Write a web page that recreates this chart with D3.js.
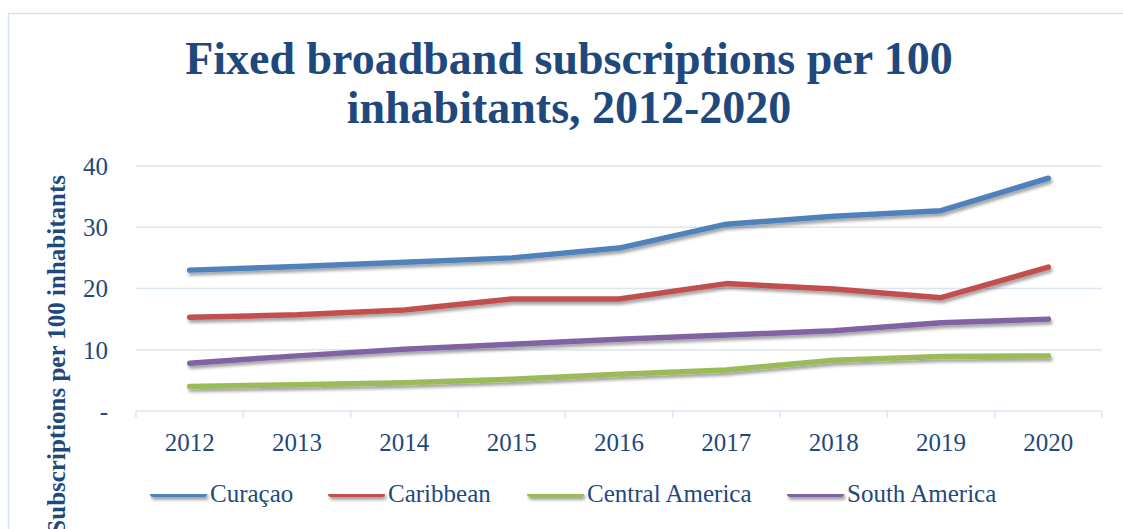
<!DOCTYPE html>
<html><head><meta charset="utf-8">
<script src="https://cdn.jsdelivr.net/npm/d3@7"></script>
<style>body{margin:0;background:#fff;overflow:hidden}svg{display:block}</style>
</head><body>
<script>
const years = ["2012","2013","2014","2015","2016","2017","2018","2019","2020"];
const curacao = [23.0, 23.6, 24.3, 25.0, 26.6, 30.5, 31.8, 32.7, 38.0];
const caribbean = [15.3, 15.7, 16.5, 18.3, 18.3, 20.8, 19.9, 18.5, 23.5];
const centralAmerica = [4.0, 4.3, 4.6, 5.2, 6.0, 6.7, 8.3, 8.9, 9.0];
const southAmerica = [7.8, 9.0, 10.1, 10.9, 11.7, 12.4, 13.1, 14.4, 15.0];
const seriesNames = ["Curaçao","Caribbean","Central America","South America"];
const seriesColors = ["#4F81BD","#C0504D","#9BBB59","#8064A2"];
const yTicks = [0,10,20,30,40];
const titleLines = ["Fixed broadband subscriptions per 100","inhabitants, 2012-2020"];
const yTitle = "Subscriptions per 100 inhabitants";

const series = [curacao, caribbean, centralAmerica, southAmerica];
const W = 1123, H = 529;
const FONT = "'Liberation Serif', 'DejaVu Serif', serif";
const textCol = "#1F497D";
const gridCol = "#DCE6F2";

const svg = d3.select("body").append("svg").attr("width", W).attr("height", H);
const defs = svg.append("defs");
const f = defs.append("filter").attr("id","sh").attr("filterUnits","userSpaceOnUse")
  .attr("x",0).attr("y",0).attr("width",W).attr("height",H);
f.append("feDropShadow").attr("dx",1.5).attr("dy",3).attr("stdDeviation",1.5).attr("flood-color","#000").attr("flood-opacity",0.35);

// chart border
svg.append("rect").attr("x",8.5).attr("y",13.5).attr("width",W+10).attr("height",H+10)
  .attr("fill","none").attr("stroke","#D4E1F1").attr("stroke-width",1.5);

// title
svg.append("g").selectAll("text").data(titleLines).join("text")
  .attr("x", 569).attr("y",(d,i)=>74+i*49).attr("text-anchor","middle")
  .attr("font-family",FONT).attr("font-weight","bold").attr("font-size",46)
  .attr("fill",textCol).text(d=>d);

const x = d3.scaleBand().domain(years).range([136,1102]);
const y = d3.scaleLinear().domain([0,40]).range([411,166]);

// gridlines
svg.append("g").selectAll("line").data(yTicks.filter(d=>d>0)).join("line")
  .attr("x1",136).attr("x2",1102).attr("y1",d=>y(d)).attr("y2",d=>y(d))
  .attr("stroke",gridCol).attr("stroke-width",1.5);

// y axis labels
const yAxis = d3.axisLeft(y).tickValues(yTicks).tickSize(0).tickPadding(0)
  .tickFormat(d=> d===0 ? "-" : d3.format("d")(d));
const yg = svg.append("g").attr("transform","translate(108,0)").call(yAxis);
yg.select(".domain").remove();
yg.selectAll("text").attr("font-family",FONT).attr("font-size",25).attr("fill",textCol).attr("dy","0.33em");

// x axis
const xAxis = d3.axisBottom(x).tickSize(0).tickPadding(0);
const xg = svg.append("g").attr("transform","translate(0,411)").call(xAxis);
xg.select(".domain").attr("stroke",gridCol).attr("stroke-width",1.5).attr("d","M136,0H1102");
xg.selectAll("text").attr("font-family",FONT).attr("font-size",25).attr("fill",textCol)
  .attr("dy",null).attr("y",40);
// tick marks at band boundaries
const bounds = years.map(d=>x(d)).concat([x.range()[1]]);
xg.append("g").selectAll("line").data(bounds).join("line")
  .attr("x1",d=>d).attr("x2",d=>d).attr("y1",0).attr("y2",7)
  .attr("stroke",gridCol).attr("stroke-width",1.5);

// y title
svg.append("text").attr("transform","translate(65,175) rotate(-90)")
  .attr("text-anchor","end").attr("font-family",FONT).attr("font-weight","bold")
  .attr("font-size",25).attr("fill",textCol).text(yTitle);

// lines
const line = d3.line().x((d,i)=>x(years[i])+x.bandwidth()/2).y(d=>y(d)).curve(d3.curveLinear);
svg.append("g").selectAll("path").data(series).join("path")
  .attr("d",line).attr("fill","none").attr("stroke",(d,i)=>seriesColors[i])
  .attr("stroke-width",5.5).attr("stroke-linecap","round").attr("stroke-linejoin","round")
  .attr("filter","url(#sh)");

// legend
const legX = [150,328,527,787];
const lg = svg.append("g").selectAll("g").data(seriesNames).join("g")
  .attr("transform",(d,i)=>`translate(${legX[i]},494)`);
lg.append("line").attr("x1",3).attr("x2",54).attr("y1",0).attr("y2",0)
  .attr("stroke",(d,i)=>seriesColors[i]).attr("stroke-width",6).attr("stroke-linecap","round")
  .attr("filter","url(#sh)");
lg.append("text").attr("x",60).attr("y",8).attr("font-family",FONT).attr("font-size",25)
  .attr("fill",textCol).text(d=>d);
</script>
</body></html>
